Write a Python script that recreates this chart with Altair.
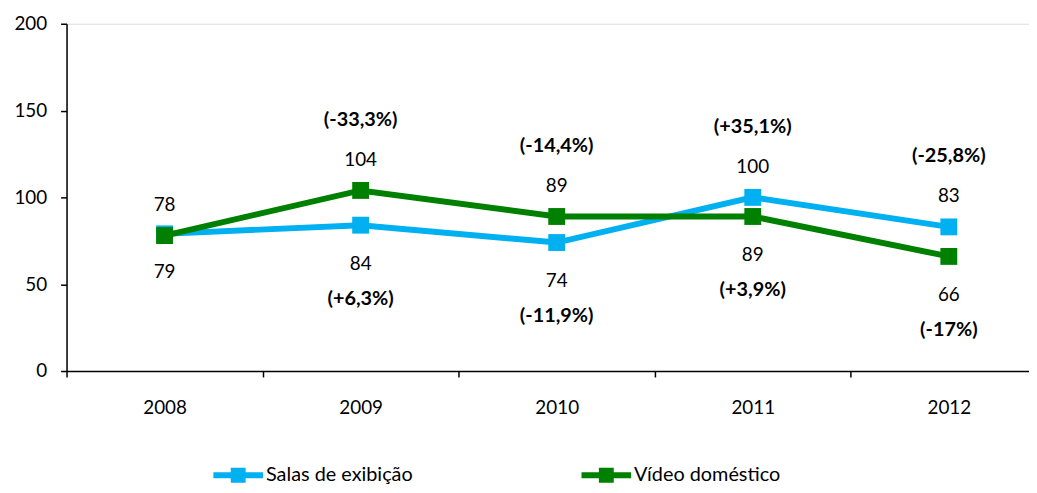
import altair as alt
import pandas as pd

years = ["2008", "2009", "2010", "2011", "2012"]
salas = [79, 84, 74, 100, 83]
video = [78, 104, 89, 89, 66]
above_vals = [78, 104, 89, 100, 83]
below_vals = [79, 84, 74, 89, 66]
above_pct = ["", "(-33,3%)", "(-14,4%)", "(+35,1%)", "(-25,8%)"]
below_pct = ["", "(+6,3%)", "(-11,9%)", "(+3,9%)", "(-17%)"]
series_names = ["Salas de exibição", "Vídeo doméstico"]
series_colors = ["#00B0F0", "#008000"]
y_ticks = [0, 50, 100, 150, 200]

FONT = "Lato"

long = pd.DataFrame({
    "year": years * 2,
    "value": salas + video,
    "series": [series_names[0]] * len(years) + [series_names[1]] * len(years),
})
labels = pd.DataFrame({
    "year": years,
    "above": above_vals,
    "below": below_vals,
    "above_pct": above_pct,
    "below_pct": below_pct,
})

legend_path = ("M-1,-0.12L1,-0.12L1,0.12L-1,0.12Z "
               "M-0.3,-0.3L0.3,-0.3L0.3,0.3L-0.3,0.3Z")

x_enc = alt.X(
    "year:O",
    scale=alt.Scale(type="band", range=[0, 988], paddingInner=0, paddingOuter=0),
    axis=alt.Axis(title=None, tickBand="extent", labelAngle=0, labelFont=FONT,
                  labelFontSize=19, labelColor="#000", domainColor="#000",
                  tickColor="#000", domainWidth=1.5, tickWidth=1.5, tickSize=6,
                  labelPadding=22, grid=False),
)
y_scale = alt.Scale(domain=[0, 200], nice=False)

color = alt.Color(
    "series:N",
    scale=alt.Scale(domain=series_names, range=series_colors),
    legend=alt.Legend(
        title=None, orient="none", legendX=148, legendY=430,
        direction="horizontal", symbolType=legend_path, symbolSize=2500,
        symbolStrokeWidth=0, labelFont=FONT, labelFontSize=20,
        labelColor="#000", labelOffset=3, columnPadding=170, padding=0,
        labelLimit=400,
    ),
)

base = alt.Chart(long).encode(
    x=x_enc,
    y=alt.Y("value:Q", scale=y_scale,
            axis=alt.Axis(title=None, values=y_ticks, labelFont=FONT,
                          labelFontSize=19, labelColor="#000",
                          domainColor="#000", tickColor="#000",
                          domainWidth=1.5, tickWidth=1.5, tickSize=6,
                          labelPadding=14, grid=False)),
    color=color,
)

lines = base.mark_line(strokeWidth=6)
points = base.mark_point(shape="square", filled=True, size=289, opacity=1)

lab = alt.Chart(labels).encode(x=alt.X("year:O"))
t_above = lab.mark_text(font=FONT, fontSize=19, color="#000", dy=-31).encode(
    y=alt.Y("above:Q", scale=y_scale), text="above:Q")
t_below = lab.mark_text(font=FONT, fontSize=19, color="#000", dy=39).encode(
    y=alt.Y("below:Q", scale=y_scale), text="below:Q")
p_above = lab.mark_text(font=FONT, fontSize=20, fontWeight="bold", color="#000", dy=-71).encode(
    y=alt.Y("above:Q", scale=y_scale), text="above_pct:N")
p_below = lab.mark_text(font=FONT, fontSize=20, fontWeight="bold", color="#000", dy=74).encode(
    y=alt.Y("below:Q", scale=y_scale), text="below_pct:N")

chart = alt.layer(lines, points, t_above, t_below, p_above, p_below).properties(
    width=970,
    height=350,
    autosize=alt.AutoSizeParams(type="none"),
    padding={"left": 59, "top": 14, "right": 0, "bottom": 113},
).configure_view(stroke=None).configure(background="white")

chart.save("out.html", embed_options={"renderer": "svg", "actions": False})
